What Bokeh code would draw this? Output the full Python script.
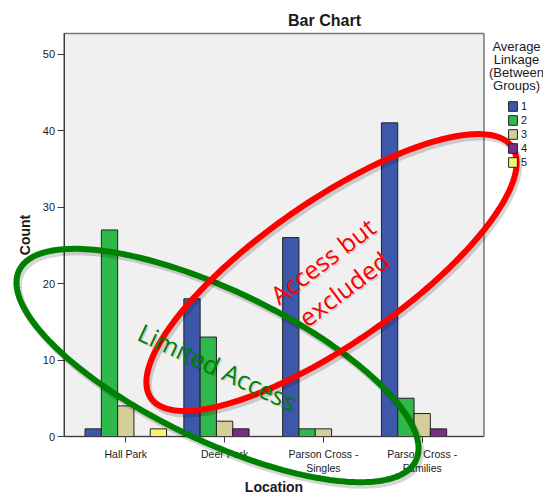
import numpy as np
from bokeh.plotting import figure
from bokeh.models import (FactorRange, Range1d, FixedTicker, Legend, LegendItem,
                          Label, PolyAnnotation, BoxAnnotation, ColumnDataSource)
from bokeh.transform import dodge
from bokeh.embed import file_html
from bokeh.resources import INLINE

# ---------------- data ----------------
locations = ["Hall Park", "Deer Park", "Parson Cross -\nSingles", "Parson Cross -\nFamilies"]
cluster_labels = ["1", "2", "3", "4", "5"]
cluster_1 = [1, 18, 26, 41]
cluster_2 = [27, 13, 1, 5]
cluster_3 = [4, 2, 1, 3]
cluster_4 = [0, 1, 0, 1]
cluster_5 = [1, 0, 0, 0]
y_ticks = [0, 10, 20, 30, 40, 50]
y_axis_max = 52.68
legend_title_lines = ["Average", "Linkage", "(Between", "Groups)"]

colors = ["#3D58AB", "#2FB84B", "#D4CF98", "#7B2C86", "#F8F36E"]
series = [cluster_1, cluster_2, cluster_3, cluster_4, cluster_5]

FONT = "Liberation Sans"
W, H = 543, 496
LEFT_PAD = 4          # px of canvas left of the frame
PX_X = 98.8           # px per category
PX_Y = 7.65           # px per count
BASE_Y = 436          # canvas y of the zero line
x_pad = (W - LEFT_PAD) / PX_X / 2 - 2.0     # padding in category units each side
y_lo = -(H - BASE_Y) / PX_Y
y_hi = BASE_Y / PX_Y

p = figure(x_range=FactorRange(*locations, range_padding=2 * x_pad / 4),
           y_range=Range1d(y_lo, y_hi),
           width=W, height=H, output_backend="svg", toolbar_location=None,
           min_border_left=LEFT_PAD, min_border_right=0, min_border_top=0, min_border_bottom=0)
p.title = None
p.background_fill_color = "white"
p.border_fill_color = "white"
p.outline_line_color = None
p.xgrid.grid_line_color = None
p.ygrid.grid_line_color = None

# plot area (grey panel)
p.add_layout(BoxAnnotation(left=-0.125, right=4.125, bottom=0, top=y_axis_max,
                           fill_color="#F0F0F0", fill_alpha=1.0, line_color="#777777",
                           line_alpha=1.0, line_width=1.5, level="underlay"))

src = ColumnDataSource(dict(loc=locations, **{f"c{i+1}": s for i, s in enumerate(series)}))
bw = 0.165
renderers = []
for i in range(5):
    r = p.vbar(x=dodge("loc", (i - 2) * bw, range=p.x_range), top=f"c{i+1}", width=bw,
               source=src, fill_color=colors[i], line_color="#222222", line_width=1)
    renderers.append(r)

# axes
for ax in (p.xaxis[0], p.yaxis[0]):
    ax.axis_line_color = "#3a3a3a"
    ax.major_tick_line_color = "#3a3a3a"
    ax.minor_tick_line_color = None
    ax.major_tick_in = 0
    ax.major_label_text_font = FONT
    ax.major_label_text_color = "#1a1a1a"
    ax.axis_label_text_font = FONT
    ax.axis_label_text_font_style = "bold"
    ax.axis_label_text_color = "#1a1a1a"

yax = p.yaxis[0]
yax.fixed_location = -0.125
yax.bounds = (0, y_axis_max)
yax.ticker = FixedTicker(ticks=y_ticks)
yax.major_tick_out = 7
yax.major_label_standoff = 2
yax.major_label_text_font_size = "11px"
yax.axis_label = "Count"
yax.axis_label_text_font_size = "14px"
yax.axis_label_standoff = 7

xax = p.xaxis[0]
xax.fixed_location = 0
xax.bounds = (-0.125, 4.125)
xax.major_tick_out = 6
xax.major_label_standoff = 5
xax.major_label_text_font_size = "10.5px"
xax.axis_label = "Location"
xax.axis_label_text_font_size = "14px"
xax.axis_label_standoff = 2

def scr(cx, cy):
    """canvas pixel (top-left origin) -> frame screen units (bottom-left origin)"""
    return cx - LEFT_PAD, H - cy

# title
tx, ty = scr(324, 20)
p.add_layout(Label(x=tx, y=ty, x_units="screen", y_units="screen", text="Bar Chart",
                   text_font=FONT, text_font_size="16px", text_font_style="bold",
                   text_color="#1a1a1a", text_align="center", text_baseline="middle"))

# legend
items = [LegendItem(label=cluster_labels[i], renderers=[renderers[i]]) for i in range(5)]
lx, ly = scr(507, 168)
legend = Legend(items=items, location=(lx, ly), padding=0, margin=0, spacing=2,
                glyph_width=11, glyph_height=12, label_height=12, label_standoff=3,
                label_text_font=FONT, label_text_font_size="11px", label_text_color="#1a1a1a",
                background_fill_alpha=0, border_line_alpha=0)
p.add_layout(legend)
for k, line in enumerate(legend_title_lines):
    gx, gy = scr(516, 46 + 13 * k)
    p.add_layout(Label(x=gx, y=gy, x_units="screen", y_units="screen", text=line,
                       text_font=FONT, text_font_size="13px", text_color="#1a1a1a",
                       text_align="center", text_baseline="middle"))

# hand-drawn annotation ellipses
def ellipse_pts(cx, cy, a, b, deg, n=240):
    t = np.linspace(0, 2 * np.pi, n)
    th = np.deg2rad(deg)
    x = cx + a * np.cos(t) * np.cos(th) - b * np.sin(t) * np.sin(th)
    y = cy + a * np.cos(t) * np.sin(th) + b * np.sin(t) * np.cos(th)
    return list(x), list(y)

annotations = [
    dict(c=(217, 365), a=220, b=75, deg=-25.6, color="#008000"),
    dict(c=(331, 272), a=220, b=71, deg=34.8, color="#FF0000"),
]
for an in annotations:
    cx, cy = scr(*an["c"])
    xs, ys = ellipse_pts(cx, cy, an["a"], an["b"], an["deg"])
    p.add_layout(PolyAnnotation(xs=[v + 2 for v in xs], ys=[v - 3 for v in ys],
                                xs_units="screen", ys_units="screen", fill_alpha=0,
                                line_color="#000000", line_alpha=0.16, line_width=7))
    p.add_layout(PolyAnnotation(xs=xs, ys=ys, xs_units="screen", ys_units="screen",
                                fill_alpha=0, line_color=an["color"], line_alpha=1.0,
                                line_width=6))

texts = [
    dict(c=(322, 260), text="Access but", angle=37, color="#FF0000"),
    dict(c=(343, 288), text="excluded", angle=37, color="#FF0000"),
    dict(c=(217, 366), text="Limited Access", angle=-25, color="#008000"),
]
for t in texts:
    x, y = scr(*t["c"])
    p.add_layout(Label(x=x + 1.5, y=y - 1.5, x_units="screen", y_units="screen",
                       text=t["text"], angle=t["angle"], angle_units="deg",
                       text_font="Open Sans", text_font_size="25px", text_color="#000000",
                       text_alpha=0.15, text_align="center", text_baseline="middle"))
    p.add_layout(Label(x=x, y=y, x_units="screen", y_units="screen",
                       text=t["text"], angle=t["angle"], angle_units="deg",
                       text_font="Open Sans", text_font_size="25px", text_color=t["color"],
                       text_align="center", text_baseline="middle"))

open("out.html", "w").write(file_html(p, INLINE))
